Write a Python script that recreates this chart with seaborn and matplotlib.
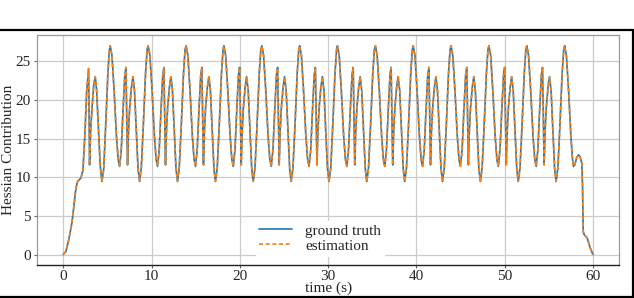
import matplotlib
matplotlib.use("Agg")
import matplotlib.pyplot as plt
import seaborn as sns
import pandas as pd
from matplotlib.patches import Rectangle

# ---- data ----
time_s = [
    0.00, 0.30, 0.60, 0.98, 1.20, 1.36, 1.50, 1.62, 2.00, 2.23, 2.45, 2.65, 2.87, 2.93, 2.98, 3.10, 3.25, 3.45,
    3.62, 3.78, 3.98, 4.18, 4.38, 4.58, 4.80, 5.05, 5.22,
    5.32, 5.52, 5.77, 6.02, 6.22, 6.38, 6.57, 6.77, 6.97, 7.10, 7.19, 7.28, 7.39, 7.52, 7.72, 7.89, 8.07, 8.27, 8.47, 8.64, 8.84, 9.07, 9.32, 9.50,
    9.62, 9.82, 10.07, 10.32, 10.52, 10.68, 10.87, 11.07, 11.27, 11.40, 11.49, 11.58, 11.69, 11.82, 12.02, 12.19, 12.37, 12.57, 12.77, 12.94, 13.14, 13.37, 13.62, 13.80,
    13.92, 14.12, 14.37, 14.62, 14.82, 14.98, 15.17, 15.37, 15.57, 15.70, 15.79, 15.88, 15.99, 16.12, 16.32, 16.49, 16.67, 16.87, 17.07, 17.24, 17.44, 17.67, 17.92, 18.10,
    18.20, 18.40, 18.65, 18.90, 19.10, 19.26, 19.45, 19.65, 19.85, 19.98, 20.07, 20.16, 20.27, 20.40, 20.60, 20.77, 20.95, 21.15, 21.35, 21.52, 21.72, 21.95, 22.20, 22.38,
    22.50, 22.70, 22.95, 23.20, 23.40, 23.56, 23.75, 23.95, 24.15, 24.28, 24.37, 24.46, 24.57, 24.70, 24.90, 25.07, 25.25, 25.45, 25.65, 25.82, 26.02, 26.25, 26.50, 26.68,
    26.78, 26.98, 27.23, 27.48, 27.68, 27.84, 28.03, 28.23, 28.43, 28.56, 28.65, 28.74, 28.85, 28.98, 29.18, 29.35, 29.53, 29.73, 29.93, 30.10, 30.30, 30.53, 30.78, 30.96,
    31.06, 31.26, 31.51, 31.76, 31.96, 32.12, 32.31, 32.51, 32.71, 32.84, 32.93, 33.02, 33.13, 33.26, 33.46, 33.63, 33.81, 34.01, 34.21, 34.38, 34.58, 34.81, 35.06, 35.24,
    35.36, 35.56, 35.81, 36.06, 36.26, 36.42, 36.61, 36.81, 37.01, 37.14, 37.23, 37.32, 37.43, 37.56, 37.76, 37.93, 38.11, 38.31, 38.51, 38.68, 38.88, 39.11, 39.36, 39.54,
    39.64, 39.84, 40.09, 40.34, 40.54, 40.70, 40.89, 41.09, 41.29, 41.42, 41.51, 41.60, 41.71, 41.84, 42.04, 42.21, 42.39, 42.59, 42.79, 42.96, 43.16, 43.39, 43.64, 43.82,
    43.93, 44.13, 44.38, 44.63, 44.83, 44.99, 45.18, 45.38, 45.58, 45.71, 45.80, 45.89, 46.00, 46.13, 46.33, 46.50, 46.68, 46.88, 47.08, 47.25, 47.45, 47.68, 47.93, 48.11,
    48.22, 48.42, 48.67, 48.92, 49.12, 49.28, 49.47, 49.67, 49.87, 50.00, 50.09, 50.18, 50.29, 50.42, 50.62, 50.79, 50.97, 51.17, 51.37, 51.54, 51.74, 51.97, 52.22, 52.40,
    52.51, 52.71, 52.96, 53.21, 53.41, 53.57, 53.76, 53.96, 54.16, 54.29, 54.38, 54.47, 54.58, 54.71, 54.91, 55.08, 55.26, 55.46, 55.66, 55.83, 56.03, 56.26, 56.51, 56.69,
    56.80, 57.00, 57.25, 57.50, 57.68, 57.80, 57.95, 58.15, 58.36, 58.55, 58.74, 58.82, 58.90, 59.00, 59.35, 59.65, 60.00,
]

ground_truth = [
    0.0, 0.4, 1.8, 4.1, 6.2, 7.9, 8.9, 9.45, 9.9, 10.9, 15.5, 21.0, 24.05, 18.0, 11.6, 16.0, 18.8, 21.9,
    23.0, 21.2, 16.3, 11.6, 9.45, 11.0, 16.5, 23.3, 26.4,
    # cycle 1 (peak at 5.32 s)
    27.0, 25.7, 21.0, 15.4, 12.3, 11.4, 13.5, 18.6, 23.2, 24.2, 18.0, 11.6, 16.0, 18.9, 21.6, 23.0, 21.2, 16.1, 11.1, 9.45, 11.2, 16.7, 23.4, 26.5,
    # cycle 2 (9.62 s)
    27.0, 25.7, 21.0, 15.4, 12.3, 11.4, 13.5, 18.6, 23.2, 24.2, 18.0, 11.6, 16.0, 18.9, 21.6, 23.0, 21.2, 16.1, 11.1, 9.45, 11.2, 16.7, 23.4, 26.5,
    # cycle 3 (13.92 s)
    27.0, 25.7, 21.0, 15.4, 12.3, 11.4, 13.5, 18.6, 23.2, 24.2, 18.0, 11.6, 16.0, 18.9, 21.6, 23.0, 21.2, 16.1, 11.1, 9.45, 11.2, 16.7, 23.4, 26.5,
    # cycle 4 (18.20 s)
    27.0, 25.7, 21.0, 15.4, 12.3, 11.4, 13.5, 18.6, 23.2, 24.2, 18.0, 11.6, 16.0, 18.9, 21.6, 23.0, 21.2, 16.1, 11.1, 9.45, 11.2, 16.7, 23.4, 26.5,
    # cycle 5 (22.50 s)
    27.0, 25.7, 21.0, 15.4, 12.3, 11.4, 13.5, 18.6, 23.2, 24.2, 18.0, 11.6, 16.0, 18.9, 21.6, 23.0, 21.2, 16.1, 11.1, 9.45, 11.2, 16.7, 23.4, 26.5,
    # cycle 6 (26.78 s)
    27.0, 25.7, 21.0, 15.4, 12.3, 11.4, 13.5, 18.6, 23.2, 24.2, 18.0, 11.6, 16.0, 18.9, 21.6, 23.0, 21.2, 16.1, 11.1, 9.45, 11.2, 16.7, 23.4, 26.5,
    # cycle 7 (31.06 s)
    27.0, 25.7, 21.0, 15.4, 12.3, 11.4, 13.5, 18.6, 23.2, 24.2, 18.0, 11.6, 16.0, 18.9, 21.6, 23.0, 21.2, 16.1, 11.1, 9.45, 11.2, 16.7, 23.4, 26.5,
    # cycle 8 (35.36 s)
    27.0, 25.7, 21.0, 15.4, 12.3, 11.4, 13.5, 18.6, 23.2, 24.2, 18.0, 11.6, 16.0, 18.9, 21.6, 23.0, 21.2, 16.1, 11.1, 9.45, 11.2, 16.7, 23.4, 26.5,
    # cycle 9 (39.64 s)
    27.0, 25.7, 21.0, 15.4, 12.3, 11.4, 13.5, 18.6, 23.2, 24.2, 18.0, 11.6, 16.0, 18.9, 21.6, 23.0, 21.2, 16.1, 11.1, 9.45, 11.2, 16.7, 23.4, 26.5,
    # cycle 10 (43.93 s)
    27.0, 25.7, 21.0, 15.4, 12.3, 11.4, 13.5, 18.6, 23.2, 24.2, 18.0, 11.6, 16.0, 18.9, 21.6, 23.0, 21.2, 16.1, 11.1, 9.45, 11.2, 16.7, 23.4, 26.5,
    # cycle 11 (48.22 s)
    27.0, 25.7, 21.0, 15.4, 12.3, 11.4, 13.5, 18.6, 23.2, 24.2, 18.0, 11.6, 16.0, 18.9, 21.6, 23.0, 21.2, 16.1, 11.1, 9.45, 11.2, 16.7, 23.4, 26.5,
    # cycle 12 (52.51 s)
    27.0, 25.7, 21.0, 15.4, 12.3, 11.4, 13.5, 18.6, 23.2, 24.2, 18.0, 11.6, 16.0, 18.9, 21.6, 23.0, 21.2, 16.1, 11.1, 9.45, 11.2, 16.7, 23.4, 26.5,
    # final peak (56.80 s) and run-down
    27.0, 25.7, 21.0, 15.4, 12.4, 11.4, 11.6, 12.5, 12.9, 12.6, 11.8, 9.0, 3.0, 2.6, 2.15, 1.0, 0.0,
]

# the estimation overlays the ground truth indistinguishably at this resolution
estimation = list(ground_truth)

series_names = ["ground truth", "estimation"]
x_ticks = [0, 10, 20, 30, 40, 50, 60]
y_ticks = [0, 5, 10, 15, 20, 25]

df = pd.concat([
    pd.DataFrame({"time": time_s, "value": ground_truth, "series": series_names[0]}),
    pd.DataFrame({"time": time_s, "value": estimation, "series": series_names[1]}),
], ignore_index=True)

sns.set_theme(style="whitegrid")
plt.rcParams["font.family"] = ["Liberation Serif", "DejaVu Serif"]
plt.rcParams["font.size"] = 11

fig = plt.figure(figsize=(6.34, 2.98), dpi=100)
ax = fig.add_axes([0.058, 0.1107, 0.919, 0.7708])

sns.lineplot(
    data=df, x="time", y="value", hue="series", style="series",
    palette={"ground truth": "#1f77b4", "estimation": "#ff7f0e"},
    dashes={"ground truth": "", "estimation": (2.4, 1.6)},
    estimator=None, sort=False, linewidth=1.2, ax=ax,
)

ax.set_xlim(-3, 63)
ax.set_ylim(-1.35, 28.35)
ax.set_xticks(x_ticks)
ax.set_yticks(y_ticks)
ax.tick_params(axis="both", labelsize=11, length=2.5, width=0.8, color="#666666",
               direction="out", bottom=True, left=True)
ax.tick_params(axis="x", pad=1.0)
ax.tick_params(axis="y", pad=2.0)

ax.grid(True, color="#cccccc", linewidth=0.9)
for side in ["top", "right", "left"]:
    ax.spines[side].set_color("#999999")
    ax.spines[side].set_linewidth(0.9)
ax.spines["bottom"].set_color("#222222")
ax.spines["bottom"].set_linewidth(1.0)

ax.set_xlabel("time (s)", fontsize=11)
ax.set_ylabel("Hessian Contribution", fontsize=11)
ax.xaxis.set_label_coords(0.5, -0.074)
ax.yaxis.set_label_coords(-0.037, 0.5)

leg = ax.legend(loc="lower center", bbox_to_anchor=(0.486, 0.04), fontsize=11,
                frameon=True, fancybox=False, labelspacing=0.1,
                handlelength=2.2, handletextpad=0.85, borderpad=0.2,
                borderaxespad=0.0)
leg.get_frame().set_facecolor("white")
leg.get_frame().set_edgecolor("white")
leg.get_frame().set_alpha(1.0)
for line in leg.get_lines():
    line.set_linewidth(1.2)

# figure border frame (as in the source document)
fig.add_artist(Rectangle((-0.01, 0.0034), 1.0077, 0.8959, transform=fig.transFigure,
                         fill=False, edgecolor="black", linewidth=1.6))

fig.savefig("out.png", dpi=100)
